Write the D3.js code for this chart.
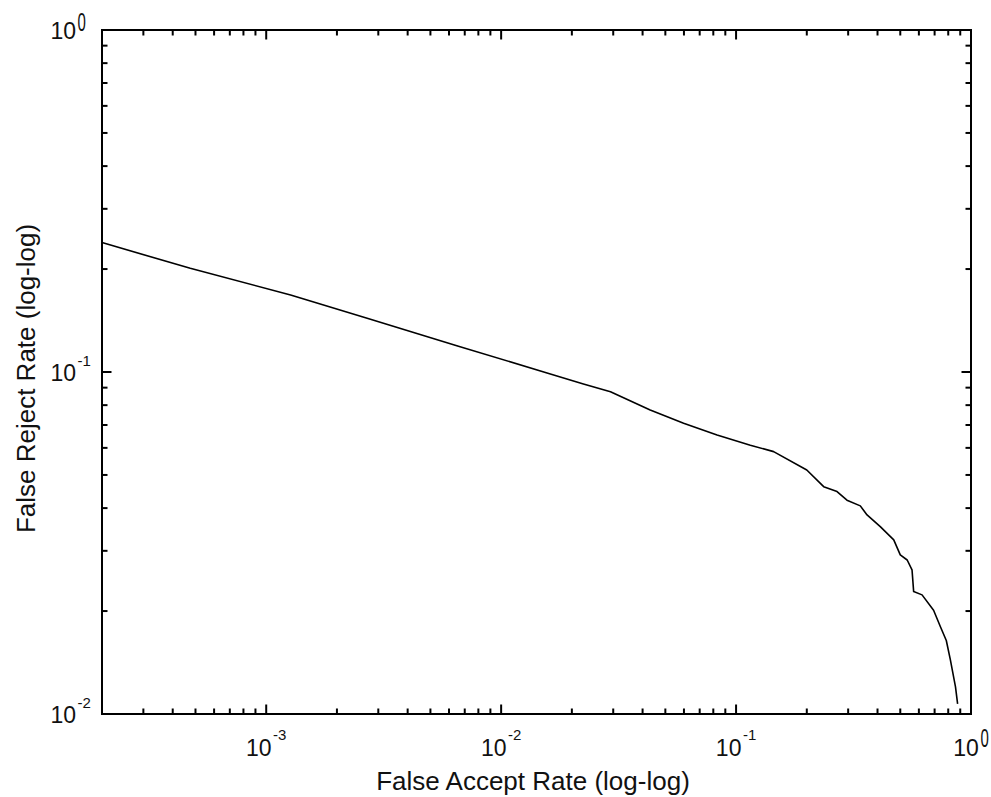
<!DOCTYPE html>
<html><head><meta charset="utf-8">
<script src="https://cdn.jsdelivr.net/npm/d3@7"></script>
<style>
body{margin:0;background:#fff;}
svg{display:block;}
text{font-family:"Liberation Sans",Arial,sans-serif;fill:#111;}
</style>
</head><body>
<svg id="chart" width="991" height="797"></svg>
<script>
// ---- data ----
const far = [2.0e-4, 4.75e-4, 1.27e-3, 2.69e-3, 6.58e-3, 0.0162, 0.0224, 0.0292, 0.0431, 0.0598,
             0.0830, 0.115, 0.1445, 0.200, 0.236, 0.269, 0.2965, 0.338, 0.361, 0.411,
             0.469, 0.500, 0.535, 0.561, 0.570, 0.619, 0.693, 0.741, 0.785, 0.817, 0.859, 0.877];
const frr = [0.239, 0.201, 0.168, 0.1436, 0.119, 0.0987, 0.0922, 0.0875, 0.0774, 0.0708,
             0.0654, 0.0611, 0.0585, 0.0517, 0.0462, 0.0447, 0.0422, 0.0406, 0.0382, 0.0353,
             0.0323, 0.0292, 0.0282, 0.0264, 0.0228, 0.0223, 0.0201, 0.0180, 0.0164, 0.0144, 0.0120, 0.0107];
const xMajorExps = ["-3", "-2", "-1", "0"];
const yMajorExps = ["-2", "-1", "0"];
const xDomain = [2e-4, 1];
const yDomain = [1e-2, 1];
const xLabel = "False Accept Rate (log-log)";
const yLabel = "False Reject Rate (log-log)";

// ---- layout ----
const L = 102, R = 971, T = 30, B = 714;
const svg = d3.select("#chart");
svg.append("rect").attr("width", 991).attr("height", 797).attr("fill", "#fff");

const x = d3.scaleLog().domain(xDomain).range([L, R]);
const y = d3.scaleLog().domain(yDomain).range([B, T]);

const isMajor = v => Math.abs(Math.log10(v) - Math.round(Math.log10(v))) < 1e-9;
const inside = (v, d) => v > d[0] * 1.0001 && v < d[1] * 0.9999;
const xTicks = x.ticks();
const yTicks = y.ticks();
const xMinor = xTicks.filter(v => !isMajor(v) && inside(v, xDomain));
const xMajor = xTicks.filter(v => isMajor(v) && inside(v, xDomain));
const yMinor = yTicks.filter(v => !isMajor(v) && inside(v, yDomain));
const yMajor = yTicks.filter(v => isMajor(v) && inside(v, yDomain));

const MIN = 5.5, MAJ = 9.5;
function drawAxis(gen, tx, ty, vals, len) {
  const g = svg.append("g").attr("transform", `translate(${tx},${ty})`)
    .call(gen.tickValues(vals).tickSize(-len).tickFormat("").offset(0));
  g.select(".domain").remove();
  g.selectAll("line").attr("stroke", "#000").attr("stroke-width", 2);
}
drawAxis(d3.axisBottom(x), 0, B, xMinor, MIN);
drawAxis(d3.axisBottom(x), 0, B, xMajor, MAJ);
drawAxis(d3.axisTop(x), 0, T, xMinor, MIN);
drawAxis(d3.axisTop(x), 0, T, xMajor, MAJ);
drawAxis(d3.axisLeft(y), L, 0, yMinor, MIN);
drawAxis(d3.axisLeft(y), L, 0, yMajor, MAJ);
drawAxis(d3.axisRight(y), R, 0, yMinor, MIN);
drawAxis(d3.axisRight(y), R, 0, yMajor, MAJ);

// box
svg.append("rect").attr("x", L).attr("y", T).attr("width", R - L).attr("height", B - T)
  .attr("fill", "none").attr("stroke", "#000").attr("stroke-width", 2);

// curve
const pts = far.map((f, i) => [f, frr[i]]);
svg.append("path").datum(pts)
  .attr("d", d3.line().x(d => x(d[0])).y(d => y(d[1])))
  .attr("fill", "none").attr("stroke", "#000").attr("stroke-width", 1.6)
  .attr("stroke-linejoin", "round");

// tick labels "10^e"
const BASE_FS = 23, EXP_FS = 15, EXP_H = 10.7;
function label(gx, baseY, exp, mode) {
  const g = svg.append("g");
  const base = g.append("text").text("10").attr("font-size", BASE_FS).attr("y", baseY);
  const s = exp === "0" ? 1.7 : 1.0;
  const eg = g.append("g");
  const et = eg.append("text").text(exp).attr("font-size", EXP_FS).attr("y", EXP_H);
  const wb = base.node().getComputedTextLength();
  const we = et.node().getComputedTextLength();
  const gap = 1.5;
  let bx;
  if (mode === "x") bx = gx - (wb + gap + we) / 2;
  else bx = gx - wb;
  base.attr("x", bx);
  const baseTop = baseY - 17.2;
  const expTop = baseTop - (mode === "x" ? 10 : 9);
  eg.attr("transform", `translate(${bx + wb + gap},${expTop}) scale(1,${s})`);
}
xMajorExps.forEach(e => label(x(Math.pow(10, +e)), 756, e, "x"));
yMajorExps.forEach(e => label(76, y(Math.pow(10, +e)) + 9, e, "y"));

// axis titles
svg.append("text").text(xLabel).attr("font-size", 26)
  .attr("text-anchor", "middle").attr("x", 533).attr("y", 790);
svg.append("text").text(yLabel).attr("font-size", 26)
  .attr("text-anchor", "middle")
  .attr("transform", "translate(35,378.5) rotate(-90)");
</script>
</body></html>
